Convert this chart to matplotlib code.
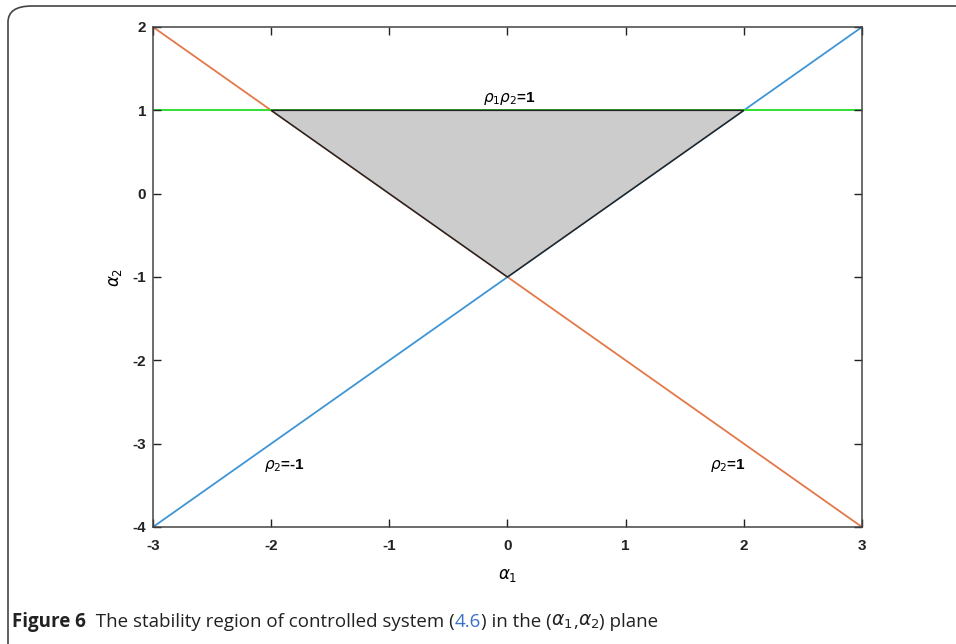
import matplotlib.pyplot as plt
from matplotlib.patches import FancyBboxPatch, Polygon

# stability region data
alpha1 = [-3, 3]
rho2_pos = [2, -4]      # rho2 = 1 line: alpha2 = -alpha1 - 1
rho2_neg = [-4, 2]      # rho2 = -1 line: alpha2 = alpha1 - 1
rho12 = [1, 1]          # rho1*rho2 = 1 line
region_x = [-2, 2, 0]
region_y = [1, 1, -1]
xticks = [-3, -2, -1, 0, 1, 2, 3]
yticks = [-4, -3, -2, -1, 0, 1, 2]

plt.rcParams['font.family'] = ['Liberation Sans', 'DejaVu Sans']
plt.rcParams['mathtext.fontset'] = 'dejavusans'
plt.rcParams['axes.unicode_minus'] = False

fig = plt.figure(figsize=(9.56, 6.44), dpi=100)
ax = fig.add_axes([153 / 956, 1 - 527 / 644, 709 / 956, 500 / 644])

ax.add_patch(Polygon(list(zip(region_x, region_y)), closed=True,
                     facecolor='#cccccc', edgecolor='#222222', lw=1.1, zorder=2))
ax.plot(alpha1, rho2_pos, color='#e47848', lw=1.3, zorder=1)
ax.plot(alpha1, rho2_neg, color='#3f95d6', lw=1.3, zorder=1)
ax.plot(alpha1, rho12, color='#22dd22', lw=1.3, zorder=1)

ax.set_xlim(-3, 3)
ax.set_ylim(-4, 2)
ax.set_xticks(xticks)
ax.set_yticks(yticks)
ax.tick_params(direction='in', length=6, width=1, top=True, right=True,
               labelsize=11, colors='#222222')
ax.tick_params(axis='x', pad=9)
ax.tick_params(axis='y', pad=5)
for lab in ax.get_xticklabels() + ax.get_yticklabels():
    lab.set_fontweight('bold')
for s in ax.spines.values():
    s.set_color('#444444')
    s.set_linewidth(1.1)

ax.set_xlabel(r'$\alpha_1$', fontsize=12, labelpad=10)
ax.set_ylabel(r'$\alpha_2$', fontsize=12, labelpad=6)

ax.text(0.02, 1.14, r'$\rho_1\rho_2$=1', fontsize=11, fontweight='bold',
        ha='center', va='center')
ax.text(-1.89, -3.26, r'$\rho_2$=-1', fontsize=11, fontweight='bold',
        ha='center', va='center')
ax.text(1.87, -3.26, r'$\rho_2$=1', fontsize=11, fontweight='bold',
        ha='center', va='center')

# rounded frame around figure
frame = FancyBboxPatch((8 / 956, -0.2), 1.2, 1 - 6 / 644 + 0.2,
                       boxstyle='round,pad=0,rounding_size=0.025',
                       transform=fig.transFigure, fill=False,
                       edgecolor='#444444', lw=1.2, clip_on=False)
fig.patches.append(frame)

# caption pieces
dark = '#222222'
parts = [
    ('Figure 6', 'bold', dark),
    ('  The stability region of controlled system (', 'normal', dark),
    ('4.6', 'normal', '#3a6fc8'),
    (') in the (', 'normal', dark),
    (r'$\alpha_1$', 'normal', dark),
    (',', 'normal', dark),
    (r'$\alpha_2$', 'normal', dark),
    (') plane', 'normal', dark),
]
fig.canvas.draw()
renderer = fig.canvas.get_renderer()
x = 12
for txt, wt, col in parts:
    t = fig.text(x / 956, 1 - 622 / 644, txt, fontsize=13.5, fontweight=wt,
                 color=col, va='center', ha='left',
                 family=['Open Sans', 'DejaVu Sans'])
    bb = t.get_window_extent(renderer)
    x += bb.width

fig.savefig('out.png', dpi=100)
